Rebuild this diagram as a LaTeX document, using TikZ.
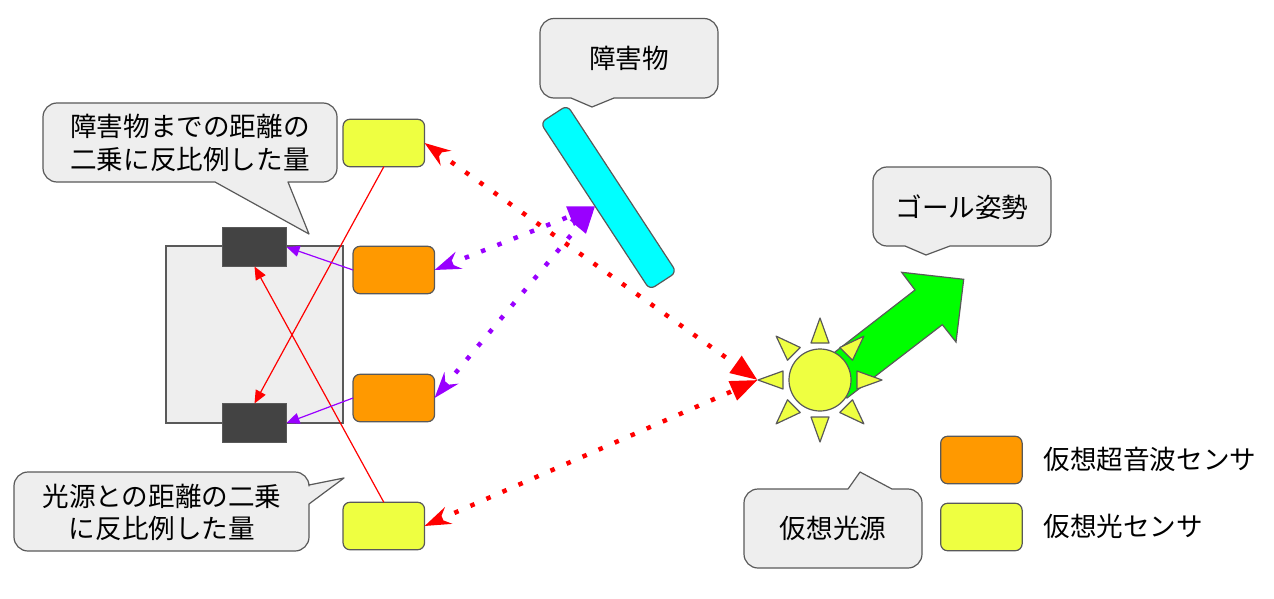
\documentclass[tikz,border=0pt]{standalone}
\usepackage{fontspec}
\setmainfont{Noto Sans CJK JP}
\usetikzlibrary{arrows.meta,calc}
\definecolor{edgeg}{HTML}{595959}
\definecolor{fillg}{HTML}{EEEEEE}
\definecolor{darkb}{HTML}{434343}
\definecolor{oran}{HTML}{FF9900}
\definecolor{yell}{HTML}{EEFF41}
\definecolor{purp}{HTML}{9900FF}
\definecolor{aqua}{HTML}{00FFFF}
\definecolor{lime}{HTML}{00FF00}
\definecolor{pured}{HTML}{FF0000}
\tikzset{
  x=1pt,y=-1pt,
  every node/.style={inner sep=0pt,outer sep=0pt},
  box/.style={draw=edgeg,line width=1.2pt,rounded corners=7pt,minimum width=81.5pt,minimum height=47.5pt},
  orangebox/.style={box,fill=oran},
  yellowbox/.style={box,fill=yell},
  wheel/.style={draw=edgeg,line width=1pt,fill=darkb,minimum width=64pt,minimum height=39pt},
  callout/.style={draw=edgeg,line width=1.2pt,fill=fillg,line join=round},
  label/.style={font=\fontsize{26.6}{32.5}\selectfont,align=center,text=black},
  sunpart/.style={draw=edgeg,line width=1.2pt,fill=yell,line join=round},
  thinred/.style={draw=pured,line width=1.2pt,-{Triangle[length=13pt,width=11pt]}},
  thinpurple/.style={draw=purp,line width=1.2pt,-{Triangle[length=13pt,width=11pt]}},
  dotline/.style={line width=4.5pt,dash pattern=on 4.5pt off 13pt},
  reddot/.style={dotline,draw=pured,{Stealth[inset=9pt,length=26pt,width=18pt,pured]}-{Triangle[length=27pt,width=20pt,pured]}},
  purpledot/.style={dotline,draw=purp,{Stealth[inset=9pt,length=26pt,width=18pt,purp]}-{Triangle[length=27pt,width=20pt,purp]}},
}
\begin{document}
\begin{tikzpicture}
\useasboundingbox (0,0) rectangle (1274,599);
% car
\node[draw=edgeg,line width=1.2pt,fill=fillg,minimum width=177pt,minimum height=177pt] (car) at (254.5,334.5) {};
\node[wheel] (wa) at (254.5,247) {};
\node[wheel] (wb) at (254.5,423) {};
% sensors
\node[yellowbox] (ya) at (383.8,143) {};
\node[yellowbox] (yb) at (383.8,526) {};
\node[orangebox] (oa) at (393.8,270) {};
\node[orangebox] (ob) at (393.8,398) {};
% legend
\node[orangebox] (lo) at (981.4,460) {};
\node[yellowbox] (ly) at (981.4,527) {};
\node[label,anchor=west] (lot) at (1043.5,459) {仮想超音波センサ};
\node[label,anchor=west] (lyt) at (1043.5,526) {仮想光センサ};
% obstacle
\node[draw=edgeg,line width=1.2pt,fill=aqua,rounded corners=6pt,rotate=-56.8,minimum width=199.5pt,minimum height=32pt] (obst) at (608.5,197.5) {};
% goal arrow
\draw[draw=edgeg,line width=1.2pt,fill=lime,line join=miter]
  (835,352) -- (915,290) -- (901.7,272.3) -- (963.7,279.3) -- (956,342) -- (942.3,324.7) -- (847,398) -- (820,380) -- cycle;
% sun
\node[sunpart,circle,minimum size=62pt] (sun) at (820,380) {};
\foreach \a in {0,45,...,315}
  \draw[sunpart,rotate around={\a:(sun.center)}] (820,318) -- (811,343) -- (829,343) -- cycle;
\coordinate (sunw) at (757.5,380);
% thin connectors
\draw[thinred] (ya.south) -- (wb.north);
\draw[thinred] (yb.north) -- (wa.south);
\draw[thinpurple] (oa.west) -- (wa.east);
\draw[thinpurple] (ob.west) -- (wb.east);
% dotted connectors
\draw[reddot] (ya.east) -- (sunw);
\draw[reddot] (yb.east) -- (sunw);
\draw[purpledot] (oa.east) -- (obst.south);
\draw[purpledot] (ob.east) -- (obst.south);
% callouts
\draw[callout] (215,182) [rounded corners=14pt] -- (43,182) -- (43,103) -- (337,103) -- (337,182) [sharp corners] -- (288,182) -- (309,234) -- cycle;
\node[label] (ca) at (190,143) {障害物までの距離の\\二乗に反比例した量};
\draw[callout] (309,504) [rounded corners=14pt] -- (309,551) -- (14,551) -- (14,472) -- (309,472) [sharp corners] -- (309,485) -- (344,478) -- cycle;
\node[label] (cb) at (162,512.5) {光源との距離の二乗\\に反比例した量};
\draw[callout] (614,98) [rounded corners=14pt] -- (718,98) -- (718,18.5) -- (540,18.5) -- (540,98) [sharp corners] -- (571,98) -- (592,107) -- cycle;
\node[label] (cc) at (629,58) {障害物};
\draw[callout] (950,246) [rounded corners=14pt] -- (1051,246) -- (1051,167) -- (873,167) -- (873,246) [sharp corners] -- (905,246) -- (926,255) -- cycle;
\node[label] (cd) at (962,207) {ゴール姿勢};
\draw[callout] (848,489) [rounded corners=14pt] -- (744,489) -- (744,568) -- (922,568) -- (922,489) [sharp corners] -- (892,489) -- (860,472) -- cycle;
\node[label] (ce) at (833,528) {仮想光源};
\end{tikzpicture}
\end{document}
